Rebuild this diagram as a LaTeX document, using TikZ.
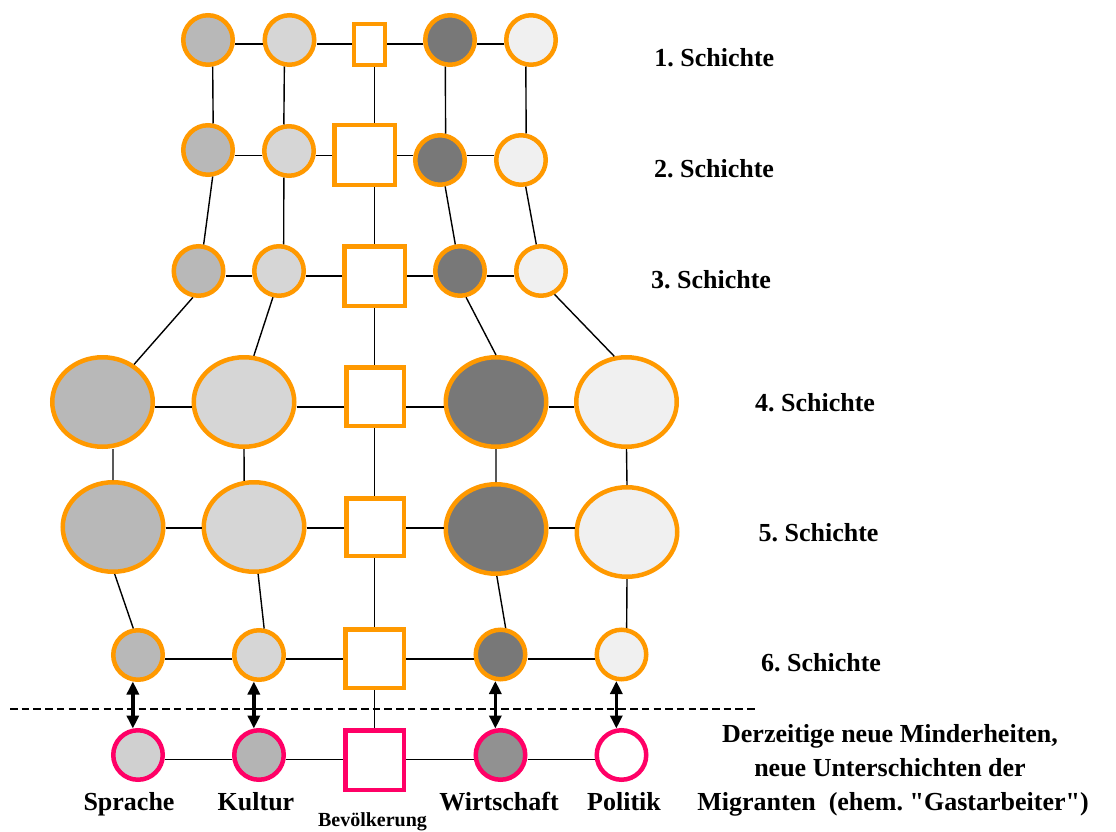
\documentclass[tikz,border=0pt]{standalone}
\usepackage{fontspec}
\setmainfont{Liberation Serif}[Ligatures=TeXOff]
\usetikzlibrary{shapes.geometric,arrows.meta}
\definecolor{orng}{RGB}{255,153,0}
\definecolor{mgnt}{RGB}{255,0,102}
\definecolor{fillA}{RGB}{184,184,184}
\definecolor{fillB}{RGB}{214,214,214}
\definecolor{fillC}{RGB}{120,120,120}
\definecolor{fillD}{RGB}{240,240,240}
\definecolor{fillE}{RGB}{208,208,208}
\definecolor{fillF}{RGB}{180,180,180}
\definecolor{fillG}{RGB}{145,145,145}
\frenchspacing
\begin{document}
\begin{tikzpicture}[x=1pt,y=-1pt,
 layer/.style={draw=orng,line width=4.5pt,inner sep=0pt},
 mig/.style={draw=mgnt,line width=4.5pt,inner sep=0pt},
 rnd/.style={circle,minimum size=49.5pt},
 oval/.style={ellipse,minimum width=100.5pt,minimum height=89.5pt},
 box/.style={rectangle,fill=white},
 link/.style={line width=1.4pt},
 bond/.style={line width=3.6pt,{Triangle[length=13pt,width=12pt]}-{Triangle[length=13pt,width=12pt]}},
 lbl/.style={font=\fontsize{26}{30}\selectfont\bfseries,anchor=base,inner sep=0pt},
 small/.style={font=\fontsize{20}{24}\selectfont\bfseries,anchor=base,inner sep=0pt}
]
\fill[white] (0,0) rectangle (1116,832);
\useasboundingbox (0,0) rectangle (1116,832);

% row 1
\node[layer,rnd,fill=fillA] (A1) at (208,40) {};
\node[layer,rnd,fill=fillB] (B1) at (289.5,40) {};
\node[layer,box,line width=4pt,minimum width=31pt,minimum height=41pt] (R1) at (369.5,44.5) {};
\node[layer,rnd,fill=fillC] (D1) at (450,40) {};
\node[layer,rnd,fill=fillD] (E1) at (531,40) {};
% row 2
\node[layer,rnd,fill=fillA] (A2) at (208,150) {};
\node[layer,rnd,fill=fillB] (B2) at (289,151) {};
\node[layer,box,minimum width=60.5pt,minimum height=59.5pt] (R2) at (364.5,155) {};
\node[layer,rnd,fill=fillC] (D2) at (440,160) {};
\node[layer,rnd,fill=fillD] (E2) at (521,160) {};
% row 3
\node[layer,rnd,fill=fillA] (A3) at (198.5,271) {};
\node[layer,rnd,fill=fillB] (B3) at (279,271) {};
\node[layer,box,minimum width=60.5pt,minimum height=59.5pt] (R3) at (374.5,276) {};
\node[layer,rnd,fill=fillC] (D3) at (460,271) {};
\node[layer,rnd,fill=fillD] (E3) at (541,271) {};
% row 4
\node[layer,oval,fill=fillA] (A4) at (102.5,402) {};
\node[layer,oval,fill=fillB] (B4) at (244,402) {};
\node[layer,box,minimum width=57.5pt,minimum height=58.5pt] (R4) at (375,396.5) {};
\node[layer,oval,fill=fillC] (D4) at (496,402) {};
\node[layer,oval,fill=fillD] (E4) at (626.5,402) {};
% row 5
\node[layer,oval,fill=fillA] (A5) at (113,527) {};
\node[layer,oval,fill=fillB] (B5) at (254,527) {};
\node[layer,box,minimum width=57.5pt,minimum height=57.5pt] (R5) at (375,527) {};
\node[layer,oval,fill=fillC] (D5) at (496,529) {};
\node[layer,oval,fill=fillD] (E5) at (627,532) {};
% row 6
\node[layer,rnd,fill=fillA] (A6) at (138,655) {};
\node[layer,rnd,fill=fillB] (B6) at (259,655) {};
\node[layer,box,minimum width=58.5pt,minimum height=58.5pt] (R6) at (374.5,658.5) {};
\node[layer,rnd,fill=fillC] (D6) at (500.5,654.5) {};
\node[layer,rnd,fill=fillD] (E6) at (621.5,654.5) {};
% row 7 (migrants)
\node[mig,rnd,fill=fillE] (A7) at (138,755) {};
\node[mig,rnd,fill=fillF] (B7) at (259,755) {};
\node[mig,box,minimum width=58.5pt,minimum height=59.5pt] (R7) at (374.5,760) {};
\node[mig,rnd,fill=fillG] (D7) at (500.5,755) {};
\node[mig,rnd,fill=white] (E7) at (621.5,755) {};

% row lines
\coordinate (H1) at (0,44);
\coordinate (H2) at (0,155.5);
\coordinate (H3) at (0,276);
\coordinate (H4) at (0,407);
\coordinate (H5) at (0,528);
\coordinate (H6) at (0,659);
\coordinate (H7) at (0,759.5);
\coordinate (V) at (374.5,0);
\foreach \r in {1,...,7}{
  \draw[link] (A\r.east |- H\r) -- (B\r.west |- H\r)
              (B\r.east |- H\r) -- (R\r.west |- H\r)
              (R\r.east |- H\r) -- (D\r.west |- H\r)
              (D\r.east |- H\r) -- (E\r.west |- H\r);
}
% centre column
\draw[link] (R1.south -| V) -- (R2.north -| V)
            (R2.south -| V) -- (R3.north -| V)
            (R3.south -| V) -- (R4.north -| V)
            (R4.south -| V) -- (R5.north -| V)
            (R5.south -| V) -- (R6.north -| V)
            (R6.south -| V) -- (R7.north -| V);
% column A
\draw[link] (A1.280.5) -- (A2.79.5)
            (A2.280.5) -- (A3.79.4)
            (A3.258) -- (A4.50.7)
            (A5.north |- A4.south) -- (A5.north)
            (A5.272) -- (A6.100.7);
% column B
\draw[link] (B1.259) -- (B2.101)
            (B2.259) -- (B3.80)
            (B3.257) -- (B4.78.7)
            (B4.270) -- (B5.102.8)
            (B5.275) -- (B6.79.5);
% column D
\draw[link] (D1.260) -- (D2.78.7)
            (D2.281.3) -- (D3.100)
            (D3.283) -- (D4.90)
            (D4.270) -- (D5.90)
            (D5.271) -- (D6.79);
% column E
\draw[link] (E1.259) -- (E2.79.5)
            (E2.280.5) -- (E3.100.5)
            (E3.300) -- (E4.105.5)
            (E4.270) -- (E5.90)
            (E5.270) -- (E6.79);

% dashed separator
\coordinate (dl) at (10,709);
\coordinate (dr) at (758,709);
\draw[line width=1.8pt,dash pattern=on 7.5pt off 4.2pt] (dl) -- (dr);

% links between layer 6 and migrants
\draw[bond] (A6.259) -- (A7.101);
\draw[bond] (B6.259) -- (B7.101);
\draw[bond] (D6.259) -- (D7.101);
\draw[bond] (E6.259) -- (E7.101);

% layer labels
\node[lbl] (L1) at (714.3,66.7) {1. Schichte};
\node[lbl] (L2) at (714,177.3) {2. Schichte};
\node[lbl] (L3) at (711,288.3) {3. Schichte};
\node[lbl] (L4) at (815,411) {4. Schichte};
\node[lbl] (L5) at (818.5,541) {5. Schichte};
\node[lbl] (L6) at (821,671.7) {6. Schichte};
\node[lbl] (M1) at (890,742) {Derzeitige neue Minderheiten,};
\node[lbl] (M2) at (890,776) {neue Unterschichten der};
\node[lbl] (M3) at (893,810) {Migranten\ \ (ehem. "Gastarbeiter")};

% column labels
\node[lbl] (T1) at (129,810.7) {Sprache};
\node[lbl] (T2) at (256,810.7) {Kultur};
\node[small] (T3) at (372.5,826.7) {Bevölkerung};
\node[lbl] (T4) at (499,810.7) {Wirtschaft};
\node[lbl] (T5) at (624,810.7) {Politik};
\end{tikzpicture}
\end{document}
